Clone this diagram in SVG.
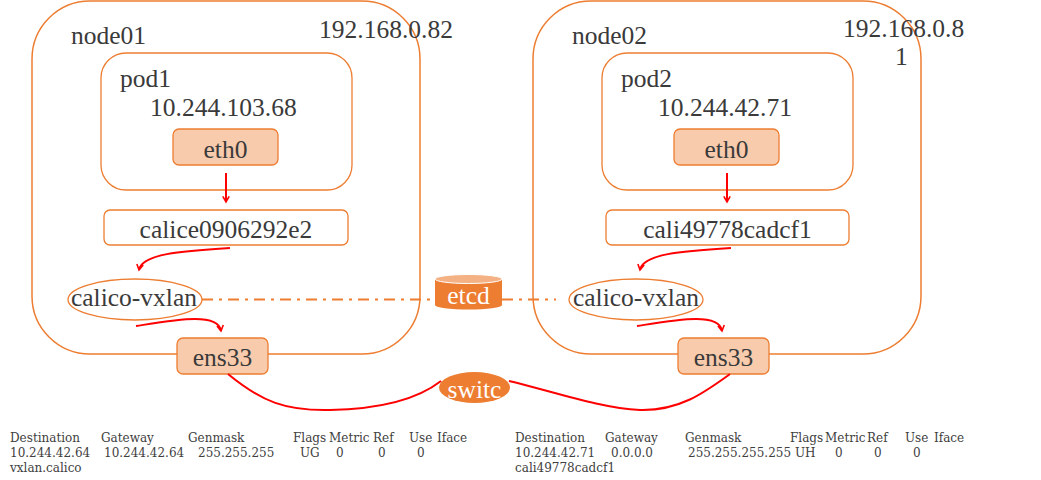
<svg xmlns="http://www.w3.org/2000/svg" width="1041" height="480" viewBox="0 0 1041 480">
<style>
.node{fill:none;stroke:#ED7D31;stroke-width:1.5}
.box{fill:#fff;stroke:#ED7D31;stroke-width:1.3}
.nic{fill:#F8CBAD;stroke:#ED7D31;stroke-width:1.3}
.t{font-family:"Liberation Serif","DejaVu Serif",serif;font-size:25.5px;fill:#3A3A3A}
.c{text-anchor:middle}
.w{fill:#fff}
.s{font-family:"DejaVu Serif","Liberation Serif",serif;font-size:12px;fill:#404040}
.arr{fill:none;stroke:#FF0000;stroke-width:2;marker-end:url(#ah)}
.wire{fill:none;stroke:#FF0000;stroke-width:2}
.dd{fill:none;stroke:#ED7D31;stroke-width:2;stroke-dasharray:11 6 3 6}
</style>
<defs>
<marker id="ah" viewBox="0 0 10 10" refX="8" refY="5" markerWidth="4" markerHeight="4" orient="auto" markerUnits="strokeWidth">
<path d="M1,1 L8,5 L1,9" fill="none" stroke="#FF0000" stroke-width="2"/>
</marker>
</defs>

<g id="node01">
<rect class="node" x="32" y="1" width="388" height="353" rx="58"/>
<text class="t" x="71" y="44">node01</text>
<text class="t" x="319" y="38">192.168.0.82</text>
</g>
<g id="pod1">
<rect class="box" x="101" y="53" width="251" height="137" rx="25"/>
<text class="t" x="120" y="87">pod1</text>
<text class="t" x="150" y="116">10.244.103.68</text>
</g>
<g id="eth0-1">
<rect class="nic" x="173" y="129" width="105" height="36" rx="6"/>
<text class="t c" x="225.5" y="158">eth0</text>
</g>
<g id="calice0906292e2">
<rect class="box" x="104" y="210" width="244" height="35" rx="6"/>
<text class="t c" x="226" y="238">calice0906292e2</text>
</g>
<g id="calico-vxlan-1">
<ellipse class="box" cx="135" cy="299.5" rx="67" ry="20.5"/>
<text class="t c" x="134" y="306">calico-vxlan</text>
</g>
<g id="ens33-1">
<rect class="nic" x="177" y="338" width="91" height="36" rx="6"/>
<text class="t c" x="222.5" y="366">ens33</text>
</g>

<g id="node02">
<rect class="node" x="533" y="1" width="388" height="353" rx="58"/>
<text class="t" x="572" y="44">node02</text>
<text class="t" x="843" y="37">192.168.0.8</text>
<text class="t" x="895" y="65">1</text>
</g>
<g id="pod2">
<rect class="box" x="602" y="53" width="251" height="137" rx="25"/>
<text class="t" x="621" y="87">pod2</text>
<text class="t" x="658" y="116">10.244.42.71</text>
</g>
<g id="eth0-2">
<rect class="nic" x="674" y="129" width="105" height="36" rx="6"/>
<text class="t c" x="726.5" y="158">eth0</text>
</g>
<g id="cali49778cadcf1">
<rect class="box" x="606" y="210" width="243" height="35" rx="6"/>
<text class="t c" x="727.5" y="238">cali49778cadcf1</text>
</g>
<g id="calico-vxlan-2">
<ellipse class="box" cx="636" cy="299.5" rx="67" ry="20.5"/>
<text class="t c" x="636" y="306">calico-vxlan</text>
</g>
<g id="ens33-2">
<rect class="nic" x="678" y="338" width="91" height="36" rx="6"/>
<text class="t c" x="723.5" y="366">ens33</text>
</g>

<g id="etcd">
<path d="M435,279 L435,305 A33.5,4.5 0 0 0 502,305 L502,279 Z" fill="#ED7D31"/>
<ellipse cx="468.5" cy="279" rx="33.5" ry="4.5" fill="#F4B183" stroke="#fff" stroke-width="1"/>
<text class="t c w" x="468.5" y="304">etcd</text>
</g>
<g id="switch">
<ellipse cx="474.5" cy="387.5" rx="35.5" ry="15.5" fill="#ED7D31"/>
<text class="t c w" x="474.5" y="398">switc</text>
</g>

<g id="connectors">
<path class="arr" d="M226,173 L226,202"/>
<path class="arr" d="M727,173 L727,202"/>
<path class="arr" d="M230,248 C180,251 142,254 139,270"/>
<path class="arr" d="M731,248 C681,251 643,254 640,270"/>
<path class="arr" d="M136,326 C175,320 218,312 221,331"/>
<path class="arr" d="M637,326 C676,320 719,312 722,331"/>
<path class="dd" d="M202,299.5 L435,299.5"/>
<path class="dd" d="M502,299.5 L556,299.5"/>
<path class="wire" d="M228,374 C262,402 286,411 330,410 C380,409 418,399 441,381"/>
<path class="wire" d="M509,381 C555,392 600,408 640,410 C680,411 705,392 730,374"/>
</g>

<g id="route-table-1">
<text class="s" x="10" y="442">Destination</text>
<text class="s" x="101" y="442">Gateway</text>
<text class="s" x="188" y="442">Genmask</text>
<text class="s" x="293" y="442">Flags</text>
<text class="s" x="329" y="442">Metric</text>
<text class="s" x="373" y="442">Ref</text>
<text class="s" x="409" y="442">Use</text>
<text class="s" x="437" y="442">Iface</text>
<text class="s" x="10" y="457">10.244.42.64</text>
<text class="s" x="104" y="457">10.244.42.64</text>
<text class="s" x="198" y="457">255.255.255</text>
<text class="s" x="300" y="457">UG</text>
<text class="s" x="336" y="457">0</text>
<text class="s" x="378" y="457">0</text>
<text class="s" x="417" y="457">0</text>
<text class="s" x="10" y="472">vxlan.calico</text>
</g>
<g id="route-table-2">
<text class="s" x="515" y="442">Destination</text>
<text class="s" x="605" y="442">Gateway</text>
<text class="s" x="685" y="442">Genmask</text>
<text class="s" x="790" y="442">Flags</text>
<text class="s" x="825" y="442">Metric</text>
<text class="s" x="867" y="442">Ref</text>
<text class="s" x="905" y="442">Use</text>
<text class="s" x="934" y="442">Iface</text>
<text class="s" x="515" y="457">10.244.42.71</text>
<text class="s" x="611" y="457">0.0.0.0</text>
<text class="s" x="688" y="457">255.255.255.255</text>
<text class="s" x="795" y="457">UH</text>
<text class="s" x="835" y="457">0</text>
<text class="s" x="874" y="457">0</text>
<text class="s" x="913" y="457">0</text>
<text class="s" x="515" y="472">cali49778cadcf1</text>
</g>
</svg>
